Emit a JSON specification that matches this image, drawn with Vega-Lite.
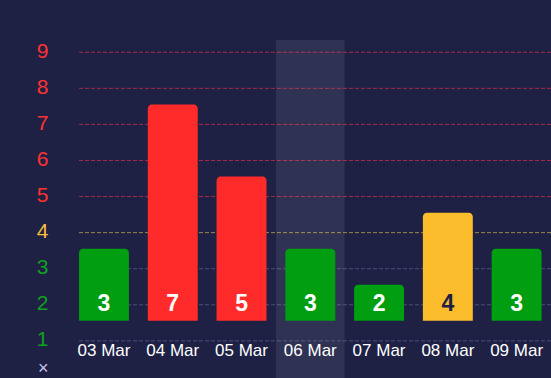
{
  "$schema": "https://vega.github.io/schema/vega-lite/v6.json",
  "width": 473,
  "height": 338,
  "autosize": {"type": "none"},
  "padding": {"left": 78, "top": 40, "right": 0, "bottom": 0},
  "background": "#1e2144",
  "config": {"view": {"stroke": null}, "font": "Liberation Sans"},
  "datasets": {
    "bars": [
      {"date": "03 Mar", "value": 3},
      {"date": "04 Mar", "value": 7},
      {"date": "05 Mar", "value": 5},
      {"date": "06 Mar", "value": 3},
      {"date": "07 Mar", "value": 2},
      {"date": "08 Mar", "value": 4},
      {"date": "09 Mar", "value": 3}
    ],
    "levels": [
      {"level": 1}, {"level": 2}, {"level": 3}, {"level": 4}, {"level": 5},
      {"level": 6}, {"level": 7}, {"level": 8}, {"level": 9}
    ],
    "highlight": [{"date": "06 Mar"}]
  },
  "data": {"name": "bars"},
  "encoding": {
    "x": {
      "field": "date",
      "type": "nominal",
      "sort": null,
      "title": null,
      "scale": {
        "domain": ["03 Mar", "04 Mar", "05 Mar", "06 Mar", "07 Mar", "08 Mar", "09 Mar"],
        "range": [-8.4, 473],
        "paddingInner": 0.274,
        "paddingOuter": 0.137
      },
      "axis": {
        "orient": "bottom",
        "offset": -36,
        "domain": false,
        "ticks": false,
        "grid": false,
        "labelPadding": 0,
        "labelBaseline": "top",
        "labelFontSize": 17,
        "labelColor": "#ffffff",
        "labelAngle": 0
      }
    },
    "y": {
      "type": "quantitative",
      "title": null,
      "scale": {"domain": [-0.03, 9.34], "nice": false, "zero": false},
      "axis": {
        "values": [0, 1, 2, 3, 4, 5, 6, 7, 8, 9],
        "labelExpr": "datum.value == 0 ? '×' : datum.label",
        "labelOverlap": false,
        "grid": false,
        "domain": false,
        "ticks": false,
        "labelPadding": 30,
        "labelFontSize": {"condition": {"test": "datum.value == 0", "value": 18}, "value": 21},
        "labelOffset": {"condition": {"test": "datum.value == 0", "value": -8}, "value": -1},
        "labelColor": {"expr": "datum.value == 0 ? '#c8c8f0' : datum.value >= 5 ? '#ff3232' : datum.value == 4 ? '#f7c03a' : '#10a020'"}
      }
    }
  },
  "resolve": {"scale": {"color": "independent"}},
  "layer": [
    {
      "data": {"name": "levels"},
      "mark": {"type": "rule", "strokeDash": [4, 2], "strokeWidth": 1},
      "encoding": {
        "x": null,
        "y": {"field": "level", "type": "quantitative"},
        "color": {
          "field": "level",
          "type": "quantitative",
          "scale": {"type": "threshold", "domain": [4, 5], "range": ["#4b4f7a", "#9a8846", "#a82a48"]},
          "legend": null
        }
      }
    },
    {
      "data": {"name": "highlight"},
      "mark": {"type": "bar", "color": "#ffffff", "opacity": 0.08, "width": {"band": 1.376}},
      "encoding": {
        "y": {"datum": 9.34, "type": "quantitative"},
        "y2": {"datum": -0.03}
      }
    },
    {
      "mark": {"type": "bar", "cornerRadiusTopLeft": 4, "cornerRadiusTopRight": 4, "yOffset": -20, "y2Offset": -20},
      "encoding": {
        "y": {"field": "value", "type": "quantitative"},
        "y2": {"datum": 1},
        "color": {
          "field": "value",
          "type": "quantitative",
          "scale": {"type": "threshold", "domain": [4, 5], "range": ["#009e10", "#fbbd2c", "#ff2b2b"]},
          "legend": null
        }
      }
    },
    {
      "mark": {"type": "text", "fontSize": 23, "fontWeight": "bold", "baseline": "middle", "dy": -1},
      "encoding": {
        "y": {"datum": 2, "type": "quantitative"},
        "text": {"field": "value", "type": "quantitative"},
        "color": {"condition": {"test": "datum.value == 4", "value": "#1e2144"}, "value": "#ffffff"}
      }
    }
  ]
}
